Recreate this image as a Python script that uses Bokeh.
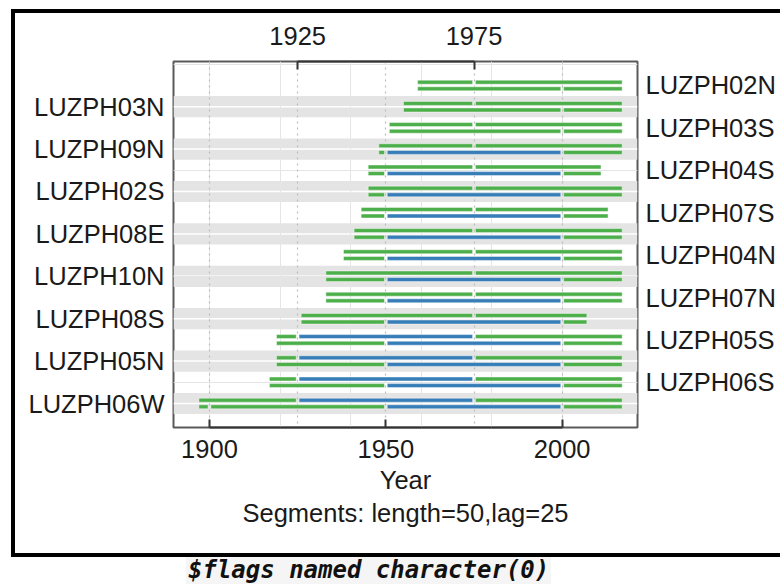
from bokeh.plotting import figure
from bokeh.layouts import column
from bokeh.models import (Range1d, LinearAxis, FixedTicker, Grid, Title, Div,
                          ColumnDataSource)
from bokeh.embed import file_html
from bokeh.resources import INLINE

# ---------------- data ----------------
series = ["LUZPH02N", "LUZPH03N", "LUZPH03S", "LUZPH09N", "LUZPH04S", "LUZPH02S",
          "LUZPH07S", "LUZPH08E", "LUZPH04N", "LUZPH10N", "LUZPH07N", "LUZPH08S",
          "LUZPH05S", "LUZPH05N", "LUZPH06S", "LUZPH06W"]
first_year = [1959, 1955, 1951, 1948, 1945, 1945, 1943, 1941, 1938, 1933, 1933, 1926,
              1919, 1919, 1917, 1897]
last_year = [2017, 2017, 2017, 2017, 2011, 2017, 2013, 2017, 2017, 2017, 2017, 2007,
             2017, 2017, 2017, 2017]
# segment starts drawn in blue for the upper / lower line
blue_top = [[], [], [], [], [], [], [], [], [], [], [], [],
            [1925], [1925], [1925], [1925]]
blue_bottom = [[], [], [], [1950], [1950], [1950], [1950], [1950], [1950], [1950],
               [1950], [1950], [1950], [1950], [1950], [1950]]
top_breaks = [1925, 1975]
bottom_breaks = [1900, 1950, 2000]
bottom_ticks = [1900, 1950, 2000]
top_ticks = [1925, 1975]
grid_years = [1900, 1925, 1950, 1975, 2000]
subtitle = "Segments: length=50,lag=25"
footer = "$flags named character(0)"

GREEN = "#4DAF4A"
BLUE = "#377EB8"
GAP = 0.4
OFF = 0.156
HALF = 0.095
FONT = "Liberation Sans"
FS = "25.5px"

n = len(series)
rows = list(range(1, n + 1))

L, R, T, B, C = [], [], [], [], []
for i in range(n):
    f, l = first_year[i], last_year[i]
    for breaks, blues, yc in ((top_breaks, blue_top[i], rows[i] - OFF),
                              (bottom_breaks, blue_bottom[i], rows[i] + OFF)):
        cuts = [f] + [b for b in breaks if f < b < l] + [l]
        for a, b in zip(cuts[:-1], cuts[1:]):
            L.append(a + (GAP if a in breaks else 0))
            R.append(b - (GAP if b in breaks else 0))
            T.append(yc - HALF)
            B.append(yc + HALF)
            C.append(BLUE if a in blues else GREEN)
seg_src = ColumnDataSource(dict(left=L, right=R, top=T, bottom=B, color=C))

x0, x1 = 1889.8, 2021.35
p = figure(width=769, height=548, x_range=Range1d(x0, x1),
           y_range=Range1d(n + 1.132, -0.132),
           output_backend="svg", toolbar_location=None,
           x_axis_location=None, y_axis_location=None,
           min_border_left=158, min_border_right=147,
           min_border_top=48, min_border_bottom=134,
           margin=(9, 0, 0, 11),
           styles={"border-left": "4px solid black", "border-top": "4px solid black",
                   "border-bottom": "4px solid black"})
p.outline_line_color = "#5a5a5a"
p.outline_line_width = 2
p.background_fill_color = "white"
p.border_fill_color = "white"

even_rows = [r for r in rows if r % 2 == 0]
odd_rows = [r for r in rows if r % 2 == 1]
p.hbar(y=even_rows, height=1.0, left=x0, right=x1, fill_color="#e4e4e4",
       line_color=None, level="image")
p.hbar(y=even_rows, height=0.07, left=x0, right=x1, fill_color="white",
       line_color=None, level="image")

p.add_layout(Grid(dimension=0, ticker=FixedTicker(ticks=grid_years),
                  grid_line_color="#bdbdbd", grid_line_dash="2 4",
                  grid_line_width=1.2))

p.quad(left="left", right="right", top="top", bottom="bottom", source=seg_src,
       fill_color="color", line_color="white", line_alpha=0.45, line_width=1)


def style_axis(ax, standoff):
    ax.major_label_text_font = FONT
    ax.major_label_text_font_size = FS
    ax.major_label_text_color = "#1a1a1a"
    ax.major_label_standoff = standoff
    ax.minor_tick_line_color = None
    ax.major_tick_out = 0


bottom = LinearAxis(ticker=FixedTicker(ticks=bottom_ticks),
                    bounds=(bottom_ticks[0], bottom_ticks[-1]), axis_label="Year")
style_axis(bottom, 12)
bottom.major_tick_in = 8
bottom.major_tick_line_color = "#333333"
bottom.major_tick_line_width = 2
bottom.axis_line_color = "#333333"
bottom.axis_line_width = 2
bottom.axis_label_text_font = FONT
bottom.axis_label_text_font_size = FS
bottom.axis_label_text_font_style = "normal"
bottom.axis_label_text_color = "#1a1a1a"
bottom.axis_label_standoff = 5
p.add_layout(bottom, "below")

top = LinearAxis(ticker=FixedTicker(ticks=top_ticks), bounds=(top_ticks[0], top_ticks[-1]))
style_axis(top, 17)
top.major_tick_in = 8
top.major_tick_line_color = "#333333"
top.major_tick_line_width = 2
top.axis_line_color = "#333333"
top.axis_line_width = 2
p.add_layout(top, "above")

left = LinearAxis(ticker=FixedTicker(ticks=even_rows),
                  major_label_overrides={r: series[r - 1] for r in even_rows})
style_axis(left, 9)
left.major_tick_in = 0
left.major_tick_line_color = None
left.axis_line_color = None
p.add_layout(left, "left")

right = LinearAxis(ticker=FixedTicker(ticks=odd_rows),
                   major_label_overrides={r: series[r - 1] for r in odd_rows})
style_axis(right, 8)
right.major_tick_in = 0
right.major_tick_line_color = None
right.axis_line_color = None
p.add_layout(right, "right")

p.add_layout(Title(text=subtitle, align="center", text_font=FONT, text_font_size=FS,
                   text_font_style="normal", text_color="#1a1a1a", standoff=1), "below")

foot = Div(text=('<span style="display:inline-block; margin-left:186px; padding:0 2px;'
                 ' font-family:\'DejaVu Sans Mono\'; font-weight:bold; font-style:italic;'
                 ' font-size:24px; line-height:27px; color:#111; background:#f5f5f5;">'
                 + footer + '</span>'),
           width=784, height=27, margin=0)

layout = column(p, foot, spacing=0)
open("out.html", "w").write(file_html(layout, INLINE))
